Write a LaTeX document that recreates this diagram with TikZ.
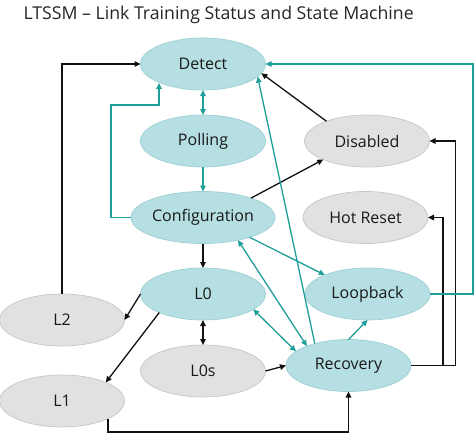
\documentclass[tikz,border=0pt]{standalone}
\usepackage{fontspec}
\setmainfont{Open Sans}
\usetikzlibrary{shapes.geometric,arrows.meta}
\definecolor{tealfill}{HTML}{B5DFE2}
\definecolor{tealdraw}{HTML}{9DD0D4}
\definecolor{grayfill}{HTML}{E1E1E1}
\definecolor{graydraw}{HTML}{C6C6C6}
\definecolor{tealline}{HTML}{1E9E98}
\definecolor{blackline}{HTML}{111111}
\tikzset{
  st/.style={ellipse, minimum width=125pt, minimum height=52pt, inner sep=0pt, outer sep=0pt, line width=0.7pt, text=black!90, font=\fontsize{16}{19}\selectfont},
  tst/.style={st, fill=tealfill, draw=tealdraw},
  gst/.style={st, fill=grayfill, draw=graydraw},
  tip/.tip={Triangle[length=6pt,width=5.5pt]},
  ta/.style={tealline, line width=1.3pt, -tip},
  tb/.style={tealline, line width=1.3pt, tip-tip},
  ba/.style={blackline, line width=1.3pt, -tip},
  bb/.style={blackline, line width=1.3pt, tip-tip},
}
\begin{document}
\begin{tikzpicture}[x=1pt,y=-1pt]
\useasboundingbox (0,0) rectangle (474,434);
\node[anchor=base west, font=\fontsize{17.7}{20}\selectfont, text=black!85] (title) at (20,19) {LTSSM – Link Training Status and State Machine};
\node[tst] (det) at (203,64) {Detect};
\node[tst] (pol) at (203,141) {Polling};
\node[tst] (cfg) at (203,217.5) {Configuration};
\node[tst] (l0) at (203,294) {L0};
\node[gst] (l0s) at (203,371) {L0s};
\node[gst] (dis) at (367,141) {Disabled};
\node[gst] (hot) at (365.5,217.5) {Hot Reset};
\node[tst] (loop) at (367.5,294) {Loopback};
\node[tst] (rec) at (348.5,365.5) {Recovery};
\node[gst] (l2) at (62,320) {L2};
\node[gst] (l1) at (62,401) {L1};
\coordinate (cl) at (111,105);
\coordinate (cu) at (159,105);
\coordinate (rt) at (473,64);
\coordinate (bot) at (348.5,432);
\coordinate (hr) at (443,217.5);
\coordinate (dr) at (455.5,141);
% black connectors
\draw[ba] (l2.north) |- (det.west);
\draw[ba] (cfg.22) -- (dis.203);
\draw[ba] (dis.154) -- (det.-9.5);
\draw[ba] (cfg.south) -- (l0.north);
\draw[bb] (l0.south) -- (l0s.north);
\draw[ba] (l0s.east) -- (rec.west);
\draw[ba] (l0.west) -- (l2.east);
\draw[ba] (l0.203) -- (l1.23);
\draw[ba] (l1.-21) |- (bot) -- (rec.south);
\draw[ba] (rec.east) -| (hr) -- (hot.east);
\draw[ba] (rec.east) -| (dr) -- (dis.east);
% teal connectors
\draw[ta] (cfg.west) -| (cl) -- (cu) -- (cu |- det.204);
\draw[tb] (det.south) -- (pol.north);
\draw[ta] (pol.south) -- (cfg.north);
\draw[ta] (rec.147) -- (det.-13.3);
\draw[ta] (loop.east) -| (rt) -- (det.east);
\draw[ta] (cfg.-23) -- (loop.156.5);
\draw[tb] (cfg.-33) -- (rec.155.5);
\draw[tb] (l0.-17.5) -- (rec.165.5);
\draw[ta] (rec.north) -- (loop.south);
\end{tikzpicture}
\end{document}
